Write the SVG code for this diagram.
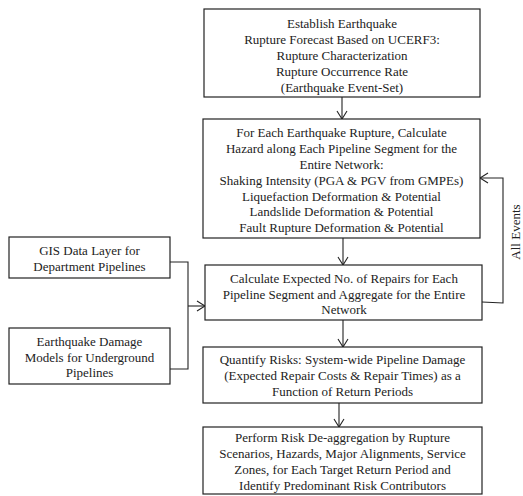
<svg xmlns="http://www.w3.org/2000/svg" width="523" height="496" viewBox="0 0 523 496">
<style>
.box{fill:#fff;stroke:#222;stroke-width:1.2}
.t{font-family:"Liberation Serif","Times New Roman",serif;font-size:13px;fill:#222;text-anchor:middle;dominant-baseline:central}
.c{fill:none;stroke:#222;stroke-width:1.1}
</style>
<defs>
<marker id="ah" markerWidth="10" markerHeight="12" refX="9" refY="6" orient="auto" markerUnits="userSpaceOnUse">
<path d="M1,1 L9,6 L1,11" fill="none" stroke="#222" stroke-width="1.1"/>
</marker>
</defs>
<rect width="523" height="496" fill="#fff"/>
<g id="connectors">
<path class="c" d="M342,97 V119" marker-end="url(#ah)"/>
<path class="c" d="M343,238 V265" marker-end="url(#ah)"/>
<path class="c" d="M343,320 V347" marker-end="url(#ah)"/>
<path class="c" d="M339,403 V427" marker-end="url(#ah)"/>
<path class="c" d="M170,262 H188 V369 H170"/>
<path class="c" d="M188,306 H205" marker-end="url(#ah)"/>
<path class="c" d="M482,302 L503,303 V178 H480" marker-end="url(#ah)"/>
<text class="t" transform="translate(515,232) rotate(-90)">All Events</text>
</g>
<g id="n1">
<rect class="box" x="204" y="9" width="276" height="88"/>
<text class="t" x="342" y="23">Establish Earthquake</text>
<text class="t" x="342" y="39">Rupture Forecast Based on UCERF3:</text>
<text class="t" x="342" y="55">Rupture Characterization</text>
<text class="t" x="342" y="71">Rupture Occurrence Rate</text>
<text class="t" x="342" y="87">(Earthquake Event-Set)</text>
</g>
<g id="n2">
<rect class="box" x="203" y="119" width="277" height="119"/>
<text class="t" x="341.5" y="132">For Each Earthquake Rupture, Calculate</text>
<text class="t" x="341.5" y="148">Hazard along Each Pipeline Segment for the</text>
<text class="t" x="341.5" y="164">Entire Network:</text>
<text class="t" x="341.5" y="180">Shaking Intensity (PGA &amp; PGV from GMPEs)</text>
<text class="t" x="341.5" y="196">Liquefaction Deformation &amp; Potential</text>
<text class="t" x="341.5" y="211">Landslide Deformation &amp; Potential</text>
<text class="t" x="341.5" y="227">Fault Rupture Deformation &amp; Potential</text>
</g>
<g id="n3">
<rect class="box" x="205" y="265" width="277" height="55"/>
<text class="t" x="344" y="278">Calculate Expected No. of Repairs for Each</text>
<text class="t" x="344" y="294">Pipeline Segment and Aggregate for the Entire</text>
<text class="t" x="344" y="309">Network</text>
</g>
<g id="n4">
<rect class="box" x="203" y="347" width="279" height="56"/>
<text class="t" x="342.5" y="359">Quantify Risks: System-wide Pipeline Damage</text>
<text class="t" x="342.5" y="375">(Expected Repair Costs &amp; Repair Times) as a</text>
<text class="t" x="342.5" y="391">Function of Return Periods</text>
</g>
<g id="n5">
<rect class="box" x="203" y="427" width="279" height="67"/>
<text class="t" x="342.5" y="437">Perform Risk De-aggregation by Rupture</text>
<text class="t" x="342.5" y="453">Scenarios, Hazards, Major Alignments, Service</text>
<text class="t" x="342.5" y="469">Zones, for Each Target Return Period and</text>
<text class="t" x="342.5" y="485">Identify Predominant Risk Contributors</text>
</g>
<g id="n6">
<rect class="box" x="9" y="237" width="161" height="41"/>
<text class="t" x="89.5" y="250">GIS Data Layer for</text>
<text class="t" x="89.5" y="266">Department Pipelines</text>
</g>
<g id="n7">
<rect class="box" x="9" y="328" width="161" height="56"/>
<text class="t" x="89.5" y="341">Earthquake Damage</text>
<text class="t" x="89.5" y="357">Models for Underground</text>
<text class="t" x="89.5" y="372">Pipelines</text>
</g>
</svg>
